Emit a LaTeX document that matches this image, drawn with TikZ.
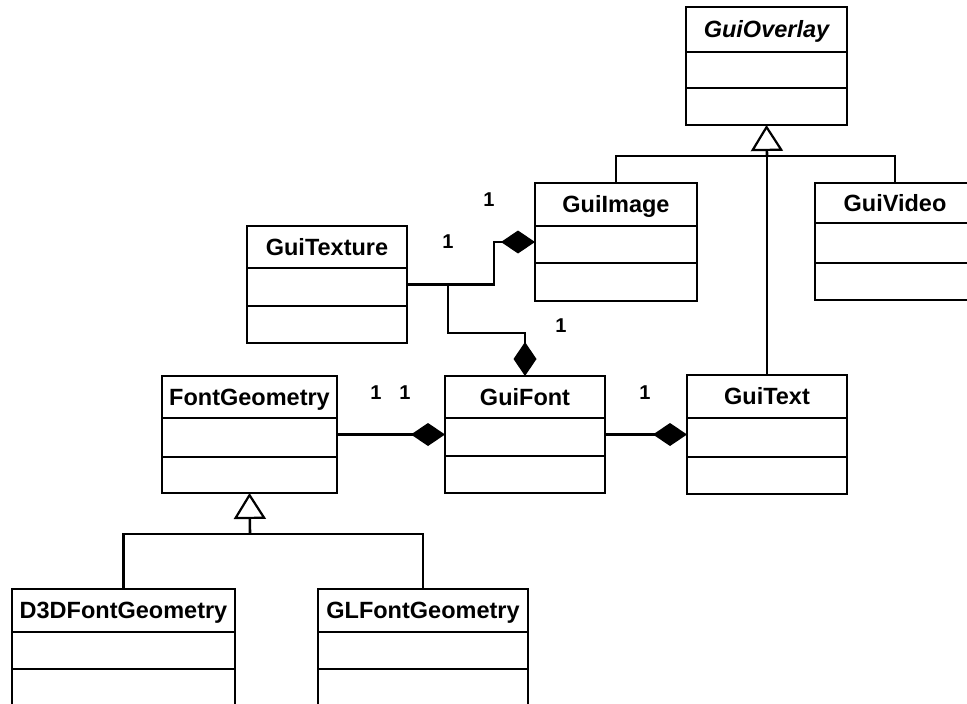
\documentclass[tikz,border=0pt]{standalone}
\usepackage{fontspec}
\setmainfont{Liberation Sans}
\usetikzlibrary{arrows.meta}

% A UML class box: name, left, top, right, bottom, header line, middle line, title
\newcommand\umlclass[8]{%
  \node[classbox, anchor=north west,
        minimum width={(#4-#2)*1pt}, minimum height={(#5-#3)*1pt}]
        (#1) at (#2,#3) {};
  \draw[boxline] (#1.west |- 0,#6) -- (#1.east |- 0,#6);
  \draw[boxline] (#1.west |- 0,#7) -- (#1.east |- 0,#7);
  \node[classtitle] (#1-title) at ({(#2+#4)/2},{(#3+#6)/2+8}) {#8};
}

\begin{document}
\begin{tikzpicture}[x=1pt,y=-1pt,
  classbox/.style={draw, line width=2.6pt, inner sep=0pt, outer sep=0pt, fill=white},
  boxline/.style={line width=2.6pt},
  classtitle/.style={anchor=base, inner sep=0pt,
    font=\fontsize{23.5}{28}\selectfont\bfseries},
  mult/.style={inner sep=0pt, font=\fontsize{20}{22}\selectfont\bfseries},
  wire/.style={line width=2.6pt},
  comp/.style={wire, -{Diamond[length=34pt,width=23pt]}},
  inherit/.style={wire, -{Triangle[open,length=26pt,width=32pt,fill=white,line width=2.2pt]}}
]
\clip (0,0) rectangle (967,704);
\fill[white] (0,0) rectangle (967,704);

% classes
\umlclass{ovl}{686}{7}{847}{125}{52}{88}{\itshape GuiOverlay}
\umlclass{gimg}{535}{183}{697}{301}{226}{263}{GuiImage}
\umlclass{gvid}{815}{183}{975}{300}{223}{263}{GuiVideo}
\umlclass{tex}{247}{226}{407}{343}{268}{306}{GuiTexture}
\umlclass{fgeo}{162}{376}{337}{493}{418}{457}{FontGeometry}
\umlclass{gfont}{445}{376}{605}{493}{418}{456}{GuiFont}
\umlclass{gtext}{687}{375}{847}{494}{418}{457}{GuiText}
\umlclass{d3d}{12}{589}{235}{724}{632}{669}{D3DFontGeometry}
\umlclass{gl}{318}{589}{528}{724}{632}{669}{GLFontGeometry}

% bend points of the connectors
\coordinate (ovljoin) at (767,156);
\coordinate (fgjoin) at (250,534);
\coordinate (imgturn) at (494,242);
\coordinate (texbranch) at (448,284.5);
\coordinate (fontjog) at (448,333);

% generalisation of GuiOverlay
\draw[wire] (gtext.north) -- (ovljoin);
\draw[inherit] (ovljoin) -- (ovl.south);
\draw[wire] (gimg.north) |- (ovljoin) -| (gvid.north);

% generalisation of FontGeometry
\draw[inherit] (fgjoin) -- (fgeo.south);
\draw[wire] (d3d.north) |- (fgjoin) -| (gl.north);

% compositions
\draw[comp] (tex.east) -| (imgturn) -- (gimg.west);
\draw[comp] (texbranch) -- (fontjog) -| (gfont.north);
\draw[comp] (fgeo.east) -- (gfont.west);
\draw[comp] (gfont.east) -- (gtext.west);

% multiplicities
\node[mult] (m-img) at (489,200) {1};
\node[mult] (m-tex) at (448,242) {1};
\node[mult] (m-font) at (561,326) {1};
\node[mult] (m-fg1) at (376,393) {1};
\node[mult] (m-fg2) at (405,393) {1};
\node[mult] (m-text) at (645,393) {1};
\end{tikzpicture}
\end{document}
